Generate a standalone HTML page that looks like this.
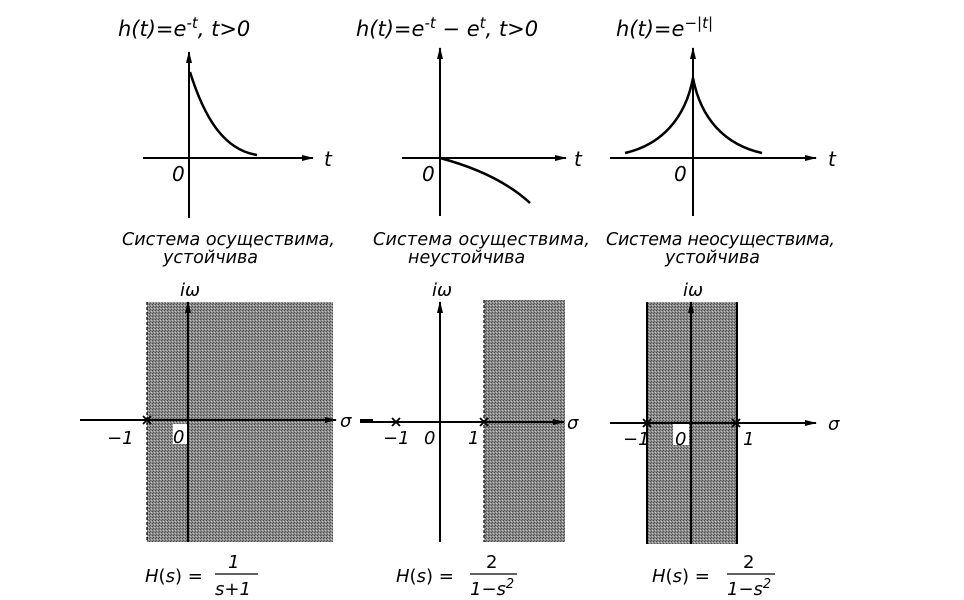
<!DOCTYPE html>
<html><head><meta charset="utf-8"><style>
html,body{margin:0;padding:0;background:#fff;}
svg{display:block;font-family:"DejaVu Sans","Liberation Sans",sans-serif;font-style:italic;}
</style></head><body>
<svg width="964" height="600" viewBox="0 0 964 600" xmlns="http://www.w3.org/2000/svg">
<defs>
<pattern id="dots" width="3" height="3" patternUnits="userSpaceOnUse">
<rect width="3" height="3" fill="#8c8c8c"/>
<rect x="0" y="0" width="1" height="1" fill="#555"/>
<rect x="2" y="1" width="1" height="1" fill="#4a4a4a"/>
<rect x="1" y="2" width="1" height="1" fill="#c4c4c4"/>
</pattern>
<marker id="ar" markerWidth="12" markerHeight="8" refX="11" refY="4" orient="auto" markerUnits="userSpaceOnUse">
<path d="M0,1 L12,4 L0,7 Z" fill="#000"/>
</marker>
</defs>
<g fill="#000" font-size="21">
<text x="118" y="36">h(t)=e<tspan dy="-8" font-size="15">-t</tspan><tspan dy="8">, t&gt;0</tspan></text>
<text x="356" y="36">h(t)=e<tspan dy="-8" font-size="15">-t</tspan><tspan dy="8"> − e</tspan><tspan dy="-8" font-size="15">t</tspan><tspan dy="8">, t&gt;0</tspan></text>
<text x="616" y="36">h(t)=e<tspan dy="-8" font-size="15">−|t|</tspan></text>
</g>
<g stroke="#000" stroke-width="2" fill="none">
<line x1="189" y1="218" x2="189" y2="52" marker-end="url(#ar)"/>
<line x1="143" y1="158" x2="313" y2="158" marker-end="url(#ar)"/>
<path d="M190,72 C205,120 225,150 257,155" stroke-width="2.5"/>
<line x1="440" y1="216" x2="440" y2="48" marker-end="url(#ar)"/>
<line x1="402" y1="158" x2="566" y2="158" marker-end="url(#ar)"/>
<path d="M440,158 C470,166 505,180 530,203" stroke-width="2.5"/>
<line x1="693" y1="216" x2="693" y2="48" marker-end="url(#ar)"/>
<line x1="610" y1="158" x2="816" y2="158" marker-end="url(#ar)"/>
<path d="M625,153 C660,145 685,120 693,78 C701,120 726,145 762,153" stroke-width="2.5"/>
</g>
<g font-size="20" fill="#000">
<text x="324" y="166">t</text><text x="172" y="181">0</text>
<text x="574" y="166">t</text><text x="422" y="181">0</text>
<text x="828" y="166">t</text><text x="674" y="181">0</text>
</g>
<g font-size="17.5" fill="#000">
<text x="122" y="245" textLength="213">Система осуществима,</text>
<text x="163" y="263">устойчива</text>
<text x="373" y="245" textLength="217">Система осуществима,</text>
<text x="408" y="263">неустойчива</text>
<text x="606" y="245" textLength="229">Система неосуществима,</text>
<text x="665" y="263">устойчива</text>
</g>
<rect x="147" y="302" width="186" height="240" fill="url(#dots)"/>
<rect x="484" y="300" width="81" height="242" fill="url(#dots)"/>
<rect x="647" y="302" width="90" height="242" fill="url(#dots)"/>
<rect x="173" y="424" width="14" height="20" fill="#fff"/>
<rect x="673" y="424" width="16" height="21" fill="#fff"/>
<g stroke="#000" stroke-width="2" fill="none">
<line x1="188" y1="542" x2="188" y2="302" marker-end="url(#ar)"/>
<line x1="80" y1="420" x2="336" y2="420" marker-end="url(#ar)"/>
<line x1="360" y1="420" x2="373" y2="420"/>
<line x1="440" y1="542" x2="440" y2="302" marker-end="url(#ar)"/>
<line x1="360" y1="422" x2="564" y2="422" marker-end="url(#ar)"/>
<line x1="691" y1="544" x2="691" y2="302" marker-end="url(#ar)"/>
<line x1="610" y1="423" x2="816" y2="423" marker-end="url(#ar)"/>
<line x1="647" y1="302" x2="647" y2="544"/>
<line x1="737" y1="302" x2="737" y2="544"/>
<line x1="484" y1="300" x2="484" y2="542" stroke-width="1.2" stroke-dasharray="3,2"/>
<line x1="147" y1="302" x2="147" y2="542" stroke-width="1.2" stroke-dasharray="3,2"/>
<g stroke-width="1.8">
<path d="M143,416 l8,8 M151,416 l-8,8"/>
<path d="M392,418 l8,8 M400,418 l-8,8"/>
<path d="M480,418 l8,8 M488,418 l-8,8"/>
<path d="M643,419 l8,8 M651,419 l-8,8"/>
<path d="M732,419 l8,8 M740,419 l-8,8"/>
</g>
</g>
<g font-size="18" fill="#000">
<text x="180" y="296">iω</text>
<text x="432" y="296">iω</text>
<text x="683" y="296">iω</text>
<text x="340" y="427">σ</text>
<text x="567" y="429">σ</text>
<text x="828" y="430">σ</text>
<text x="107" y="444">−1</text><text x="173" y="443">0</text>
<text x="383" y="444">−1</text><text x="424" y="444">0</text><text x="468" y="444">1</text>
<text x="623" y="445">−1</text><text x="675" y="445">0</text><text x="743" y="445">1</text>
</g>
<g font-size="18" fill="#000" font-style="normal">
<text x="145" y="582"><tspan font-style="italic">H</tspan>(<tspan font-style="italic">s</tspan>)  =</text>
<text x="228" y="568" font-style="italic">1</text>
<line x1="215" y1="574" x2="258" y2="574" stroke="#000" stroke-width="1.3"/>
<text x="215" y="595" font-style="italic">s+1</text>
<text x="396" y="582"><tspan font-style="italic">H</tspan>(<tspan font-style="italic">s</tspan>)  =</text>
<text x="486" y="568">2</text>
<line x1="470" y1="574" x2="517" y2="574" stroke="#000" stroke-width="1.3"/>
<text x="470" y="595" font-style="italic">1−s<tspan dy="-7" font-size="13">2</tspan></text>
<text x="652" y="582"><tspan font-style="italic">H</tspan>(<tspan font-style="italic">s</tspan>)  =</text>
<text x="743" y="568">2</text>
<line x1="727" y1="574" x2="775" y2="574" stroke="#000" stroke-width="1.3"/>
<text x="727" y="595" font-style="italic">1−s<tspan dy="-7" font-size="13">2</tspan></text>
</g>
</svg>
</body></html>
